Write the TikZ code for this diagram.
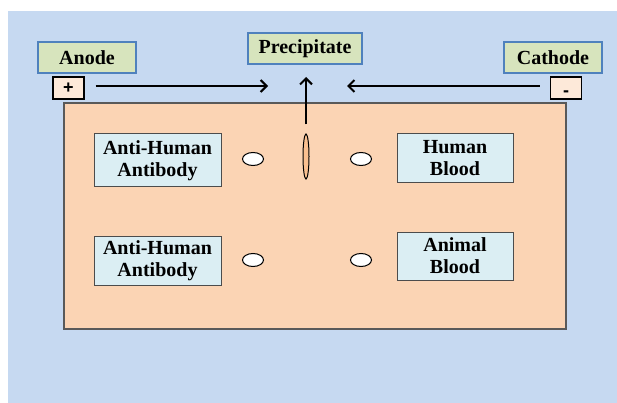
\documentclass[tikz,border=0pt]{standalone}
\usepackage{fontspec}
\setmainfont{Liberation Serif}
\setsansfont{Liberation Sans}
\usetikzlibrary{arrows.meta, shapes.geometric}

\definecolor{bgblue}{HTML}{C6D9F1}
\definecolor{boxgreen}{HTML}{D7E4BD}
\definecolor{edgeblue}{HTML}{4F81BD}
\definecolor{signpink}{HTML}{FDE9D9}
\definecolor{gelorange}{HTML}{FBD4B4}
\definecolor{wellblue}{HTML}{DBEEF3}
\definecolor{bandorange}{HTML}{FAC090}

\begin{document}
\begin{tikzpicture}[
    x=1pt, y=-1pt,
    txt/.style={font=\bfseries\fontsize{20}{22}\selectfont},
    label/.style={rectangle, draw=edgeblue, line width=1.2pt, fill=boxgreen, inner sep=0pt, minimum height=31pt, txt},
    sign/.style={rectangle, draw=black, line width=1.4pt, fill=signpink, inner sep=0pt, minimum width=31pt, minimum height=22pt, font=\sffamily\bfseries\fontsize{18}{20}\selectfont},
    sample/.style={rectangle, draw=black!70, line width=1pt, fill=wellblue, inner sep=0pt, align=center, txt},
    well/.style={ellipse, draw, line width=1pt, fill=white, inner sep=0pt, minimum width=21pt, minimum height=13pt},
    arrow/.style={-{Straight Barb[length=6pt, width=12pt]}, line width=2pt}
]
\useasboundingbox (0,0) rectangle (617,403);
\fill[bgblue] (8,11) rectangle (617,403);

% gel plate
\filldraw[fill=gelorange, draw=black!65, line width=1.2pt] (64,103) rectangle (566,329);

% electrodes
\node[label, minimum width=98pt] (anode) at (87,57.5) {Anode};
\node[label, minimum width=98pt] (cathode) at (553,57.5) {Cathode};
\node[label, minimum width=114pt] (prec) at (305,48.5) {Precipitate};
\node[sign] (plus) at (68.5,88) {+};
\node[sign] (minus) at (566,88) {\vphantom{+}\smash{\raisebox{-3pt}{-}}};

% samples
\node[sample, minimum width=127pt, minimum height=53pt] (ab1) at (157.5,160.5) {Anti-Human\\Antibody};
\node[sample, minimum width=127pt, minimum height=49pt] (ab2) at (157.5,260.5) {Anti-Human\\Antibody};
\node[sample, minimum width=116pt, minimum height=49pt] (human) at (455,158.5) {Human\\Blood};
\node[sample, minimum width=116pt, minimum height=48pt] (animal) at (455,256) {Animal\\Blood};

% wells
\node[well] (w1) at (253,159) {};
\node[well] (w2) at (361,159) {};
\node[well] (w3) at (253,260) {};
\node[well] (w4) at (361,260) {};
\node[ellipse, draw, line width=1pt, fill=bandorange, inner sep=0pt, minimum width=6pt, minimum height=45pt] (band) at (306,156.5) {};

\coordinate (tipL) at (268,86);
\coordinate (tipR) at (347,86);
\coordinate (tipUp) at (306,77);

\draw[arrow] ([xshift=11pt, yshift=2pt]plus.east) -- (tipL);
\draw[arrow] ([xshift=-10pt, yshift=2pt]minus.west) -- (tipR);
\draw[arrow] ([yshift=9pt]band.north) -- (tipUp);
\end{tikzpicture}
\end{document}
